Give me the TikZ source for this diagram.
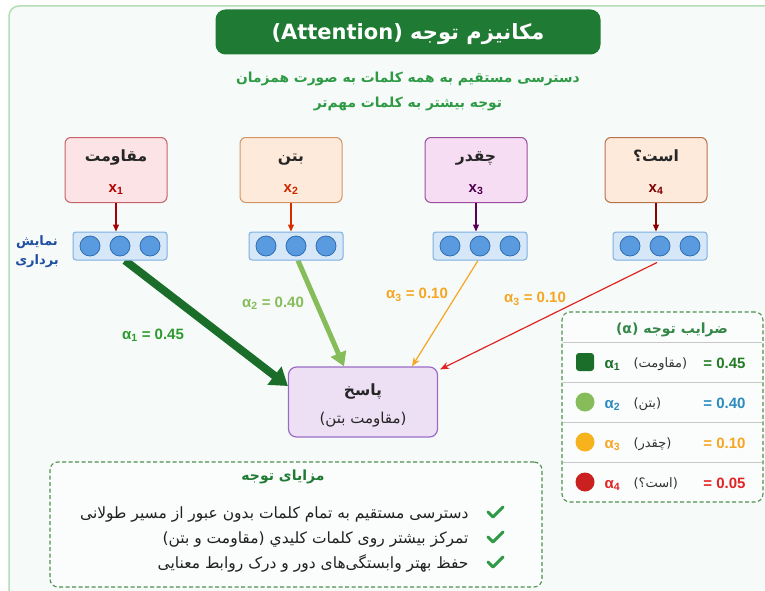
\documentclass[tikz,border=0pt]{standalone}
\usepackage{fontspec}
\setmainfont{Liberation Sans}
\newfontfamily\fa[Script=Arabic]{DejaVu Sans}
\TeXXeTstate=1
\usetikzlibrary{arrows.meta,backgrounds}
\newcommand\fatext[1]{{\fa\beginR #1\endR}}
\newcommand\fsz[1]{\fontsize{#1}{#1}\selectfont}

\definecolor{panelbg}{HTML}{F6FBF9}
\definecolor{panelline}{HTML}{B4DDB6}
\definecolor{titlegreen}{HTML}{1F7A33}
\definecolor{subgreen}{HTML}{2F9A45}
\definecolor{vecfill}{HTML}{D6E8F8}
\definecolor{vecline}{HTML}{7EAEE0}
\definecolor{dotfill}{HTML}{5A9BDF}
\definecolor{dotline}{HTML}{2F6DB5}
\definecolor{labelblue}{HTML}{1F4FA0}
\definecolor{aone}{HTML}{1B6E2A}
\definecolor{aonetxt}{HTML}{2D9A2D}
\definecolor{atwo}{HTML}{86BD5A}
\definecolor{athree}{HTML}{F5A623}
\definecolor{afour}{HTML}{E02424}
\definecolor{legline}{HTML}{4F8F4F}
\definecolor{valblue}{HTML}{2B8CBE}
\definecolor{inAfill}{HTML}{FCE4E6}
\definecolor{inAline}{HTML}{C8616A}
\definecolor{inBfill}{HTML}{FDEADB}
\definecolor{inBline}{HTML}{D39467}
\definecolor{inCfill}{HTML}{F7DDF4}
\definecolor{inCline}{HTML}{9C4E9C}
\definecolor{inDline}{HTML}{B8714E}
\definecolor{outfill}{HTML}{EDE0F5}
\definecolor{outline}{HTML}{9B6CC6}

\tikzset{
  inbox/.style={draw, rounded corners=6pt, line width=1pt, minimum width=102pt, minimum height=65pt},
  vecbox/.style={draw=vecline, fill=vecfill, rounded corners=3pt, line width=1pt, minimum width=94pt, minimum height=28pt},
  dot/.style={circle, draw=dotline, fill=dotfill, line width=0.8pt, minimum size=20pt, inner sep=0pt},
  feed/.style={line width=1.2pt, -{Triangle[length=7pt,width=6pt]}},
  word/.style={font=\fa\bfseries\fsz{15.5}, text=black!85, anchor=base},
  xlab/.style={font=\bfseries\fsz{15}, anchor=base},
  alab/.style={font=\bfseries\fsz{15}},
  dashbox/.style={draw=legline, line width=1.1pt, dash pattern=on 4pt off 2.5pt, rounded corners=8pt},
  rowtxt/.style={font=\fa\fsz{13}, text=black!80, anchor=base west},
  rowval/.style={font=\bfseries\fsz{15}, anchor=base east},
  rowalpha/.style={font=\bfseries\fsz{15}, anchor=base west},
  item/.style={font=\fa\fsz{15.5}, text=black!87, anchor=base east},
  tickline/.style={draw=subgreen, line width=3pt, line cap=round, line join=round},
}

\begin{document}
\begin{tikzpicture}[x=1pt,y=-1pt]
\useasboundingbox (0,0) rectangle (765,591);

\begin{scope}[on background layer]
  \fill[white] (0,0) rectangle (765,591);
  \begin{scope}
    \clip (0,0) rectangle (765,591);
    \draw[panelline, fill=panelbg, line width=1.5pt, rounded corners=10pt] (9,6) rectangle (800,640);
  \end{scope}
\end{scope}

% title and subtitle
\node[fill=titlegreen, rounded corners=10pt, minimum width=385pt, minimum height=45pt] (title) at (408,32) {};
\node[text=white, font=\fa\bfseries\fsz{21}, anchor=base] (titlet) at (408,40)
      {\fa\beginR مکانیزم توجه (\beginL Attention\endL)\endR};
\node[font=\fa\bfseries\fsz{13.8}, text=subgreen, anchor=base] (sub1) at (408,83) {\fatext{دسترسی مستقیم به همه کلمات به صورت همزمان}};
\node[font=\fa\bfseries\fsz{13.8}, text=subgreen, anchor=base] (sub2) at (408,108) {\fatext{توجه بیشتر به کلمات مهم‌تر}};

% input words
\node[inbox, draw=inAline, fill=inAfill] (in1) at (116,170) {};
\node[inbox, draw=inBline, fill=inBfill] (in2) at (291,170) {};
\node[inbox, draw=inCline, fill=inCfill] (in3) at (476,170) {};
\node[inbox, draw=inDline, fill=inBfill] (in4) at (656,170) {};

\node[word] (w1) at (116,161) {\fatext{مقاومت}};
\node[word] (w2) at (291,161) {\fatext{بتن}};
\node[word] (w3) at (476,161) {\fatext{چقدر}};
\node[word] (w4) at (656,161) {\fatext{است؟}};

\node[xlab, text=red!70!black] (x1) at (116,192) {x\textsubscript{1}};
\node[xlab, text=orange!40!red!80!black] (x2) at (291,192) {x\textsubscript{2}};
\node[xlab, text=violet!60!black] (x3) at (476,192) {x\textsubscript{3}};
\node[xlab, text=red!50!black] (x4) at (656,192) {x\textsubscript{4}};

% vector representations
\foreach \i/\cx in {1/120, 2/296, 3/480, 4/660} {
  \node[vecbox] (v\i) at (\cx,246) {};
  \node[dot] (v\i a) at (\cx-30,246) {};
  \node[dot] (v\i b) at (\cx,246) {};
  \node[dot] (v\i c) at (\cx+30,246) {};
}

\draw[feed, red!65!black] (in1.south) -- (in1.south |- v1.north);
\draw[feed, orange!40!red!85!black] (in2.south) -- (in2.south |- v2.north);
\draw[feed, violet!70!black] (in3.south) -- (in3.south |- v3.north);
\draw[feed, red!55!black] (in4.south) -- (in4.south |- v4.north);

\node[font=\fa\bfseries\fsz{13}, text=labelblue, anchor=base] (lab1) at (37,245) {\fatext{نمایش}};
\node[font=\fa\bfseries\fsz{13}, text=labelblue, anchor=base] (lab2) at (37,264) {\fatext{برداری}};

% output
\node[draw=outline, fill=outfill, rounded corners=8pt, line width=1.2pt,
      minimum width=149pt, minimum height=70pt] (out) at (363,402) {};
\node[word] (outw) at (363,395) {\fatext{پاسخ}};
\node[font=\fa\fsz{15}, text=black!85, anchor=base] (outs) at (363,423) {\fatext{(مقاومت بتن)}};

% weighted connections
\begin{scope}[on background layer]
\draw[aone, line width=8pt, -{Triangle[length=17pt 0,width=22pt 0]}] ([xshift=5pt]v1.south) -- ([yshift=16pt]out.west);
\draw[atwo, line width=5pt, -{Triangle[length=14pt 0,width=16pt 0]}] ([xshift=2pt]v2.south) -- ([xshift=-19pt]out.north);
\draw[athree, line width=1.2pt, -{Stealth[length=9pt,width=7pt]}] ([xshift=-2pt]v3.south) -- ([xshift=49pt]out.north);
\draw[afour, line width=1.2pt, -{Stealth[length=9pt,width=7pt]}] ([xshift=-3pt,yshift=-2pt]v4.south) -- ([xshift=2pt,yshift=-3pt]out.north east);
\end{scope}

\node[alab, text=aonetxt] (l1) at (153,335) {α\textsubscript{1} = 0.45};
\node[alab, text=atwo] (l2) at (273,303) {α\textsubscript{2} = 0.40};
\node[alab, text=athree] (l3) at (417,295) {α\textsubscript{3} = 0.10};
\node[alab, text=athree] (l4) at (535,299) {α\textsubscript{3} = 0.10};

% legend
\node[dashbox, fill=white!60!panelbg, minimum width=201pt, minimum height=190pt] (leg) at (662.5,407) {};
\node[font=\fa\bfseries\fsz{14}, text=titlegreen!90, anchor=base] (legt) at (672,333) {\fa\beginR ضرایب توجه (α)\endR};
\foreach \yy/\nm in {342/s1, 382/s2, 422/s3, 462/s4} {
  \coordinate (\nm l) at (563,\yy);
  \coordinate (\nm r) at (762,\yy);
  \draw[black!22, line width=0.8pt] (\nm l) -- (\nm r);
}
\node[fill=aone, rounded corners=3pt, minimum size=18pt, inner sep=0pt] (m1) at (585,362) {};
\node[circle, fill=atwo, minimum size=19pt, inner sep=0pt] (m2) at (585,402) {};
\node[circle, fill=athree!85!yellow, minimum size=19pt, inner sep=0pt] (m3) at (585,442) {};
\node[circle, fill=afour!90!black, minimum size=19pt, inner sep=0pt] (m4) at (585,482) {};

\node[rowalpha, text=aone] (r1a) at (601,368) {α\textsubscript{1}};
\node[rowalpha, text=valblue] (r2a) at (601,408) {α\textsubscript{2}};
\node[rowalpha, text=athree] (r3a) at (601,448) {α\textsubscript{3}};
\node[rowalpha, text=afour] (r4a) at (601,488) {α\textsubscript{4}};

\node[rowtxt] (r1w) at (630,367) {\fatext{(مقاومت)}};
\node[rowtxt] (r2w) at (630,407) {\fatext{(بتن)}};
\node[rowtxt] (r3w) at (630,447) {\fatext{(چقدر)}};
\node[rowtxt] (r4w) at (630,487) {\fatext{(است؟)}};

\node[rowval, text=aonetxt!80!black] (r1v) at (749,368) {= 0.45};
\node[rowval, text=valblue] (r2v) at (749,408) {= 0.40};
\node[rowval, text=athree] (r3v) at (749,448) {= 0.10};
\node[rowval, text=afour] (r4v) at (749,488) {= 0.05};

% benefits
\node[dashbox, fill=white!60!panelbg, minimum width=492pt, minimum height=125pt] (ben) at (296,524.5) {};
\node[font=\fa\bfseries\fsz{14}, text=titlegreen, anchor=base] (bent) at (283,480) {\fatext{مزایای توجه}};
\node[item] (b1) at (472,518) {\fatext{دسترسی مستقیم به تمام کلمات بدون عبور از مسیر طولانی}};
\node[item] (b2) at (472,543) {\fatext{تمرکز بیشتر روی کلمات کلیدي (مقاومت و بتن)}};
\node[item] (b3) at (472,568) {\fatext{حفظ بهتر وابستگی‌های دور و درک روابط معنایی}};

% check marks in front of each item
\foreach \n/\yy in {c1/513, c2/538, c3/563} {
  \coordinate (\n) at (495,\yy);
  \draw[tickline] (\n) ++(-7,-1) -- ++(5,5) -- ++(10,-10);
}
\end{tikzpicture}
\end{document}
